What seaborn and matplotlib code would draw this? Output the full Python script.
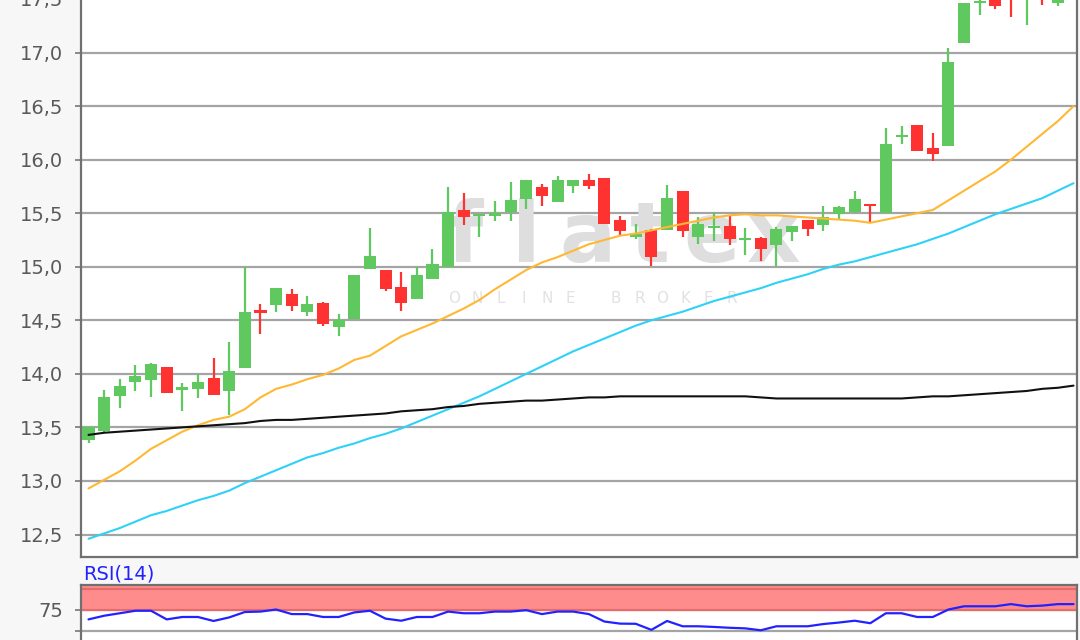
import numpy as np
import pandas as pd
import matplotlib
matplotlib.use("Agg")
import matplotlib.pyplot as plt
import seaborn as sns

# Daily candles
opens = [13.38, 13.47, 13.79, 13.92, 13.94, 14.06, 13.85, 13.86, 13.96, 13.84,
         14.05, 14.60, 14.64, 14.75, 14.58, 14.66, 14.44, 14.51, 14.98, 14.97,
         14.81, 14.70, 14.89, 15.00, 15.53, 15.47, 15.47, 15.51, 15.63, 15.74,
         15.60, 15.75, 15.81, 15.83, 15.44, 15.28, 15.34, 15.34, 15.71, 15.28,
         15.36, 15.38, 15.25, 15.27, 15.20, 15.32, 15.44, 15.39, 15.49, 15.51,
         15.59, 15.50, 16.21, 16.32, 16.11, 16.13, 17.09, 17.46, 17.52, 17.62,
         17.55, 17.62, 17.46]
highs = [13.50, 13.85, 13.95, 14.08, 14.10, 14.06, 13.91, 14.00, 14.15, 14.30,
         15.00, 14.65, 14.80, 14.79, 14.73, 14.67, 14.56, 14.92, 15.36, 14.97,
         14.95, 15.00, 15.17, 15.74, 15.69, 15.48, 15.61, 15.79, 15.81, 15.77,
         15.85, 15.81, 15.87, 15.83, 15.47, 15.40, 15.35, 15.76, 15.71, 15.46,
         15.51, 15.47, 15.36, 15.28, 15.37, 15.38, 15.44, 15.57, 15.57, 15.71,
         15.59, 16.30, 16.31, 16.32, 16.25, 17.04, 17.46, 17.52, 17.55, 17.66,
         17.70, 17.65, 17.58]
lows = [13.35, 13.46, 13.68, 13.84, 13.78, 13.82, 13.65, 13.77, 13.80, 13.62,
        14.05, 14.37, 14.58, 14.59, 14.54, 14.45, 14.35, 14.51, 14.98, 14.77,
        14.59, 14.70, 14.89, 15.00, 15.39, 15.28, 15.43, 15.43, 15.54, 15.57,
        15.60, 15.69, 15.73, 15.40, 15.30, 15.26, 15.01, 15.34, 15.28, 15.21,
        15.24, 15.20, 15.11, 15.05, 15.01, 15.24, 15.29, 15.33, 15.44, 15.50,
        15.42, 15.50, 16.15, 16.08, 15.99, 16.13, 17.09, 17.35, 17.41, 17.33,
        17.26, 17.44, 17.43]
closes = [13.50, 13.78, 13.89, 13.98, 14.09, 13.82, 13.88, 13.92, 13.80, 14.03,
          14.58, 14.57, 14.80, 14.63, 14.65, 14.47, 14.50, 14.92, 15.10, 14.79,
          14.66, 14.92, 15.03, 15.51, 15.46, 15.48, 15.50, 15.62, 15.81, 15.66,
          15.81, 15.81, 15.75, 15.40, 15.33, 15.31, 15.09, 15.64, 15.33, 15.40,
          15.38, 15.26, 15.26, 15.17, 15.35, 15.38, 15.35, 15.46, 15.56, 15.63,
          15.57, 16.15, 16.22, 16.08, 16.05, 16.91, 17.46, 17.47, 17.43, 17.55,
          17.62, 17.53, 17.53]

# Moving averages (orange, cyan, black) and RSI(14)
ma_orange = [12.93, 13.01, 13.09, 13.19, 13.30, 13.38, 13.46, 13.52, 13.57, 13.60,
             13.67, 13.78, 13.86, 13.90, 13.95, 13.99, 14.05, 14.13, 14.17, 14.26,
             14.35, 14.41, 14.47, 14.54, 14.61, 14.69, 14.79, 14.88, 14.97, 15.04,
             15.09, 15.15, 15.21, 15.25, 15.29, 15.31, 15.34, 15.37, 15.40, 15.43,
             15.46, 15.48, 15.49, 15.48, 15.48, 15.47, 15.46, 15.45, 15.44, 15.43,
             15.41, 15.44, 15.47, 15.50, 15.53, 15.62, 15.71, 15.80, 15.89, 16.00,
             16.12, 16.24, 16.36, 16.50]
ma_cyan = [12.46, 12.51, 12.56, 12.62, 12.68, 12.72, 12.77, 12.82, 12.86, 12.91,
           12.98, 13.04, 13.10, 13.16, 13.22, 13.26, 13.31, 13.35, 13.40, 13.44,
           13.49, 13.55, 13.61, 13.67, 13.73, 13.79, 13.86, 13.93, 14.00, 14.07,
           14.14, 14.21, 14.27, 14.33, 14.39, 14.45, 14.50, 14.54, 14.58, 14.63,
           14.68, 14.72, 14.76, 14.80, 14.85, 14.89, 14.93, 14.98, 15.02, 15.05,
           15.09, 15.13, 15.17, 15.21, 15.26, 15.31, 15.37, 15.43, 15.49, 15.54,
           15.59, 15.64, 15.71, 15.78]
ma_black = [13.43, 13.45, 13.46, 13.47, 13.48, 13.49, 13.50, 13.51, 13.52, 13.53,
            13.54, 13.56, 13.57, 13.57, 13.58, 13.59, 13.60, 13.61, 13.62, 13.63,
            13.65, 13.66, 13.67, 13.69, 13.70, 13.72, 13.73, 13.74, 13.75, 13.75,
            13.76, 13.77, 13.78, 13.78, 13.79, 13.79, 13.79, 13.79, 13.79, 13.79,
            13.79, 13.79, 13.79, 13.78, 13.77, 13.77, 13.77, 13.77, 13.77, 13.77,
            13.77, 13.77, 13.77, 13.78, 13.79, 13.79, 13.80, 13.81, 13.82, 13.83,
            13.84, 13.86, 13.87, 13.89]
rsi_values = [63.6, 68.0, 71.0, 74.0, 74.0, 63.6, 66.5, 66.5, 61.7, 66.0,
              72.5, 73.0, 75.5, 70.0, 70.0, 66.5, 66.5, 72.0, 74.0, 64.5,
              62.0, 66.5, 66.5, 73.0, 71.0, 71.0, 73.0, 73.0, 74.7, 70.0,
              73.0, 73.0, 70.0, 61.0, 58.5, 58.3, 51.0, 61.7, 55.3, 55.3,
              54.5, 53.5, 52.8, 50.5, 55.3, 55.3, 55.3, 58.0, 59.8, 62.0,
              59.0, 71.0, 71.0, 66.5, 66.5, 75.5, 79.4, 79.4, 79.4, 82.0,
              79.4, 80.2, 82.0, 82.0]

price_ticks = [12.5, 13.0, 13.5, 14.0, 14.5, 15.0, 15.5, 16.0, 16.5, 17.0, 17.5]
price_tick_labels = ["12,5", "13,0", "13,5", "14,0", "14,5", "15,0",
                     "15,5", "16,0", "16,5", "17,0", "17,5"]
rsi_ticks = [50, 75]
rsi_tick_labels = ["", "75"]

GREEN = "#5fc85f"
RED = "#ff3232"
GRID = "#a4a4a4"
SPINE = "#707070"
LABEL = "#5a5a5a"

sns.set_theme(style="white")
plt.rcParams["font.family"] = ["DejaVu Sans"]

candles = pd.DataFrame({"open": opens, "high": highs, "low": lows, "close": closes})
candles["idx"] = np.arange(len(candles))
lines = pd.DataFrame({"orange": ma_orange, "cyan": ma_cyan,
                      "black": ma_black, "rsi": rsi_values})
lines["idx"] = np.arange(len(lines))

fig = plt.figure(figsize=(10.8, 6.4), dpi=100, facecolor="#f7f7f7")
ax = fig.add_axes([0.075, 0.1297, 0.9222, 0.9221])
ax_rsi = fig.add_axes([0.075, -0.0503, 0.9222, 0.1362])

for a in (ax, ax_rsi):
    a.set_facecolor("white")
    for side in ("left", "right", "bottom", "top"):
        a.spines[side].set_color(SPINE)
        a.spines[side].set_linewidth(1.6)
    a.set_axisbelow(True)
    a.grid(axis="y", color=GRID, linewidth=1.6)
    a.grid(axis="x", visible=False)
    a.tick_params(axis="y", left=True, length=4, width=1.4, color="#8a8a8a",
                  labelcolor=LABEL, labelsize=14, pad=9)
    a.tick_params(axis="x", bottom=False, labelbottom=False)

# watermark
def spaced_text(axis, text, x0, y, step, **kw):
    for i, ch in enumerate(text):
        axis.text(x0 + i * step, y, ch, transform=axis.transAxes,
                  ha="center", va="baseline", zorder=1, **kw)

spaced_text(ax, "flatex", 0.385, 0.50, 0.062, fontsize=60,
            color="#dedede", fontweight="bold")
spaced_text(ax, "ONLINE BROKER", 0.375, 0.43, 0.0232, fontsize=11,
            color="#e2e2e2")

# candles
up = candles["close"] >= candles["open"]
colors = np.where(up, GREEN, RED)
ax.vlines(candles["idx"], candles["low"], candles["high"], colors=colors,
          linewidth=1.6, zorder=3)
body_bottom = candles[["open", "close"]].min(axis=1)
body_height = (candles["close"] - candles["open"]).abs().clip(lower=0.02)
ax.bar(candles["idx"], body_height, bottom=body_bottom, width=0.77,
       color=colors, linewidth=0, zorder=4)

# moving averages
sns.lineplot(data=lines, x="idx", y="orange", ax=ax, color="#ffb833",
             linewidth=1.5, zorder=5)
sns.lineplot(data=lines, x="idx", y="cyan", ax=ax, color="#2fd2f7",
             linewidth=1.5, zorder=5)
sns.lineplot(data=lines, x="idx", y="black", ax=ax, color="#111111",
             linewidth=1.5, zorder=5)

ax.set_xlim(-0.48, 63.22)
ax.set_ylim(12.29, 17.80)
ax.set_yticks(price_ticks)
ax.set_yticklabels(price_tick_labels)
ax.set_xlabel("")
ax.set_ylabel("")

# RSI panel
ax_rsi.axhspan(75, 105, color="#ff8c8c", zorder=1, linewidth=0)
ax_rsi.axhline(75, color="#e46c6c", linewidth=1.6, zorder=2)
ax_rsi.axhline(100, color="#e46c6c", linewidth=1.6, zorder=2)
sns.lineplot(data=lines, x="idx", y="rsi", ax=ax_rsi, color="#2222ff",
             linewidth=1.6, zorder=3)
ax_rsi.set_xlim(-0.48, 63.22)
ax_rsi.set_ylim(0, 105)
ax_rsi.set_yticks(rsi_ticks)
ax_rsi.set_yticklabels(rsi_tick_labels)
ax_rsi.set_xlabel("")
ax_rsi.set_ylabel("")

fig.text(83 / 1080, 0.0953, "RSI(14)", color="#2222ff", fontsize=14,
         ha="left", va="baseline")

fig.savefig("out.png", dpi=100, facecolor=fig.get_facecolor())
